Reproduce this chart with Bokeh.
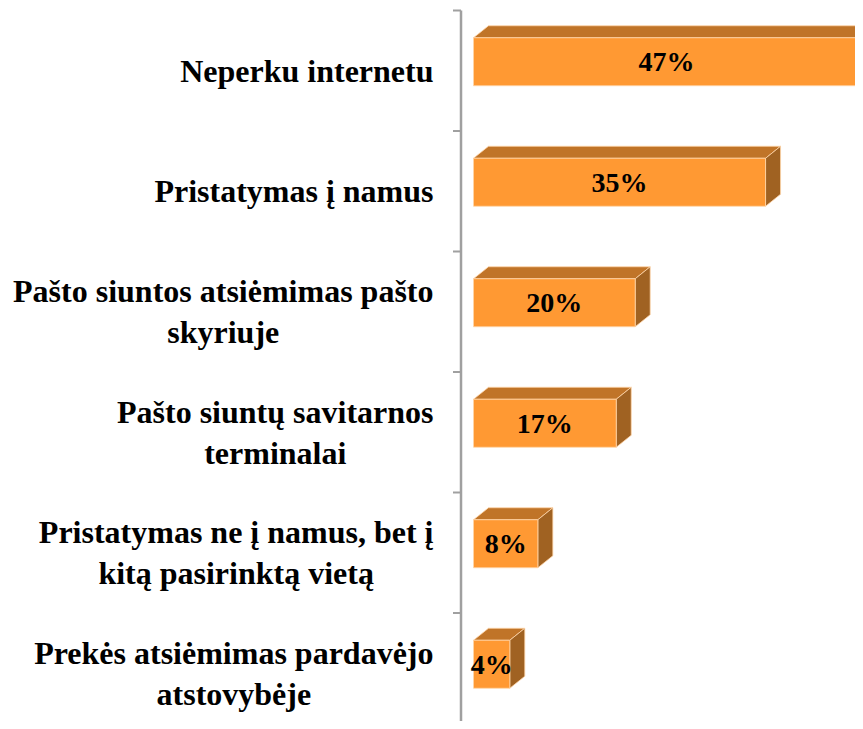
from bokeh.plotting import figure
from bokeh.models import ColumnDataSource, Range1d
from bokeh.core.properties import value
from bokeh.embed import file_html
from bokeh.resources import INLINE

# ---- data ----
categories = [
    "Neperku internetu",
    "Pristatymas į namus",
    "Pašto siuntos atsiėmimas pašto\nskyriuje",
    "Pašto siuntų savitarnos\nterminalai",
    "Pristatymas ne į namus, bet į\nkitą pasirinktą vietą",
    "Prekės atsiėmimas pardavėjo\natstovybėje",
]
values = [46.8, 35.4, 19.6, 17.3, 7.8, 4.4]
value_labels = ["47%", "35%", "20%", "17%", "8%", "4%"]

# ---- styling / geometry ----
W, H = 855, 721
PX_PER_UNIT_X = 8.25      # pixels per percent
PX_PER_BAND = 120.5       # pixels per category band
BAR_START_PX = 473        # canvas x of value 0
TOP_BOUNDARY_PX = 10      # canvas y of first band boundary
DEPTH_X_PX, DEPTH_Y_PX = 15, 12
FRONT_H_PX, FRONT_SHIFT_PX = 48, -9
AXIS_GAP_PX = 12.5
TICK_LEN_PX = 8
LABEL_GAP_PX = 40

FRONT = "#FF9933"
TOP = "#C07428"
SIDE = "#A06222"
EDGE = "#FFD6AA"
AXIS = "#A0A0A0"

n = len(categories)
x0 = -BAR_START_PX / PX_PER_UNIT_X
x1 = (W - BAR_START_PX) / PX_PER_UNIT_X
y_top = -0.5 - TOP_BOUNDARY_PX / PX_PER_BAND
y_bot = y_top + H / PX_PER_BAND

p = figure(width=W, height=H, output_backend="svg", toolbar_location=None,
           x_range=Range1d(x0, x1), y_range=Range1d(y_bot, y_top),
           x_axis_location=None, y_axis_location=None, min_border=0)
p.outline_line_color = None
p.grid.visible = False
p.background_fill_color = "white"
p.border_fill_color = "white"

dxu = DEPTH_X_PX / PX_PER_UNIT_X
dyu = DEPTH_Y_PX / PX_PER_BAND
fh = FRONT_H_PX / PX_PER_BAND
fs = FRONT_SHIFT_PX / PX_PER_BAND

idx = list(range(n))
yc = [i + fs for i in idx]
ytop = [c - fh / 2 for c in yc]
ybot = [c + fh / 2 for c in yc]

top_xs = [[0, v, v + dxu, dxu] for v in values]
top_ys = [[t, t, t - dyu, t - dyu] for t in ytop]
side_xs = [[v, v + dxu, v + dxu, v] for v in values]
side_ys = [[t, t - dyu, b - dyu, b] for t, b in zip(ytop, ybot)]

p.patches(top_xs, top_ys, fill_color=TOP, line_color=EDGE, line_width=0.8)
p.patches(side_xs, side_ys, fill_color=SIDE, line_color=EDGE, line_width=0.8)

src = ColumnDataSource(dict(y=yc, right=values, lab=value_labels,
                            mid=[v / 2 for v in values]))
p.hbar(y="y", left=0, right="right", height=fh, source=src,
       fill_color=FRONT, line_color=EDGE, line_width=0.8)

p.text(x="mid", y="y", text="lab", source=src, text_align="center",
       text_baseline="middle", text_font=value("Liberation Serif"),
       text_font_style="bold", text_font_size="28px", text_color="black")

# axis line and ticks
ax = -AXIS_GAP_PX / PX_PER_UNIT_X
tl = TICK_LEN_PX / PX_PER_UNIT_X
p.segment(x0=[ax], y0=[-0.5], x1=[ax], y1=[n - 0.5 + 1], line_color=AXIS, line_width=2.5)
bounds = [i - 0.5 for i in range(n + 1)]
p.segment(x0=[ax - tl] * len(bounds), y0=bounds, x1=[ax] * len(bounds), y1=bounds,
          line_color=AXIS, line_width=2)

# category labels
csrc = ColumnDataSource(dict(x=[0] * n, y=idx, t=categories))
p.text(x="x", y="y", text="t", source=csrc, x_offset=-LABEL_GAP_PX,
       anchor="center_right", text_align="center", text_baseline="middle",
       text_line_height=1.15, text_font=value("Liberation Serif"),
       text_font_style="bold", text_font_size="32px", text_color="black")

open("out.html", "w").write(file_html(p, INLINE))
